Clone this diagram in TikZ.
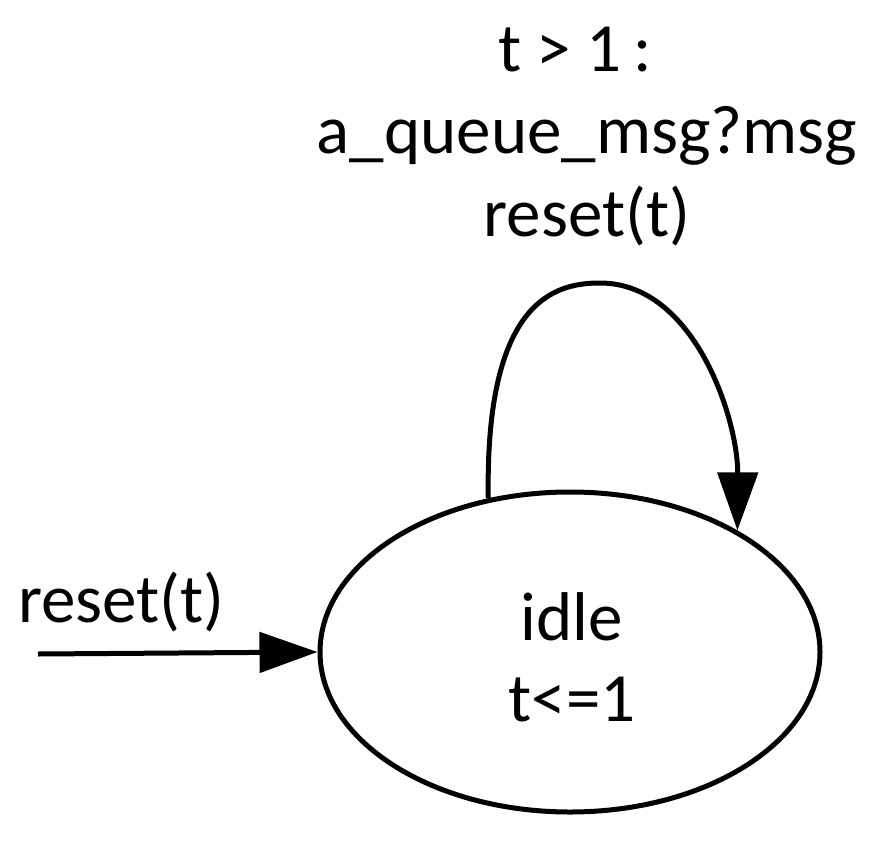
\documentclass[tikz,border=0pt]{standalone}
\usepackage{fontspec}
\setmainfont{Carlito}
\usetikzlibrary{shapes.geometric,arrows.meta}
\begin{document}
\begin{tikzpicture}[x=1pt,y=-1pt,
  lbl/.style={font=\fontsize{69pt}{80pt}\selectfont,inner sep=0pt},
  edge/.style={line width=5pt,-{Triangle[length=58pt,width=40pt]}}]
\useasboundingbox (0,0) rectangle (891,843);
\node[ellipse,draw,line width=5pt,minimum width=500pt,minimum height=320pt,inner sep=0pt] (idle) at (570,652) {};
\node[lbl] (n1) at (572,617) {idle};
\node[lbl] (n2) at (572,700) {t<=1};
\coordinate (start) at (38,654);
\draw[edge] (start) -- (idle.west);
\node[lbl,anchor=base west] (rl) at (18,622) {reset(t)};
\draw[edge] (idle.118) .. controls (485,300) and (555,283) .. (600,283) .. controls (695,283) and (738,420) .. (idle.36);
\node[lbl] (g) at (575,50) {t > 1\,:};
\node[lbl] (m) at (587,136) {a\_queue\_msg?msg};
\node[lbl] (r) at (587,216) {reset(t)};
\end{tikzpicture}
\end{document}
